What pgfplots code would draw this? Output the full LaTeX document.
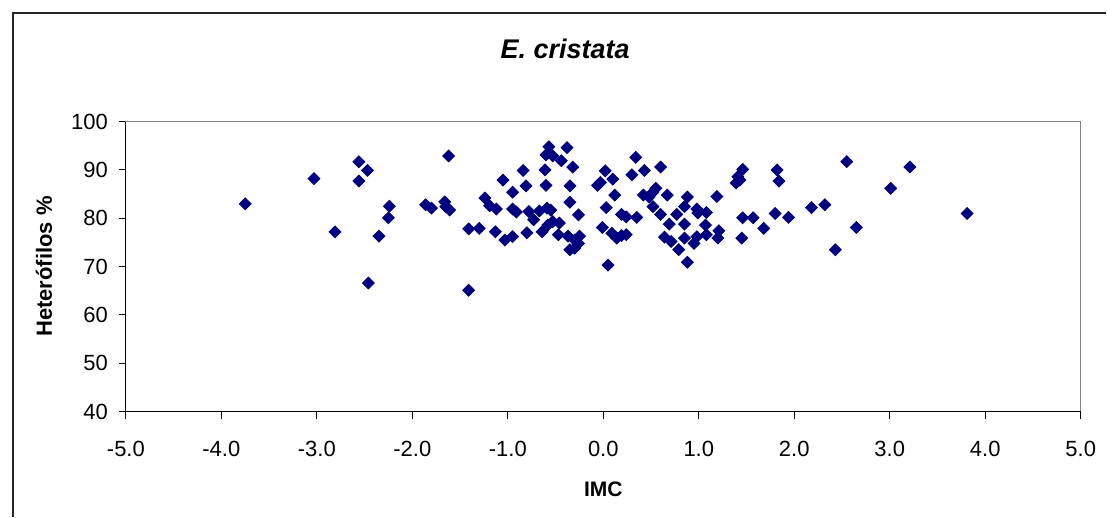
\documentclass[border=0pt]{standalone}
\usepackage{fontspec}
\setmainfont{Liberation Sans}
\usepackage{pgfplots}
\pgfplotsset{compat=1.18}

\definecolor{navy}{HTML}{000080}

\begin{document}
\begin{tikzpicture}
\begin{axis}[
    at={(0,0)}, anchor=south west,
    scale only axis,
    width=477.85pt, height=145.15pt,
    xmin=-5, xmax=5, ymin=40, ymax=100,
    xtick={-5,-4,...,5}, ytick={40,50,...,100},
    xticklabel style={yshift=-7.5pt, /pgf/number format/fixed, /pgf/number format/fixed zerofill, /pgf/number format/precision=1, /pgf/number format/assume math mode=true},
    yticklabel style={xshift=-2pt, /pgf/number format/assume math mode=true},
    tick label style={font=\fontsize{11}{13}\selectfont},
    tick align=outside, major tick length=3.5pt,
    tick style={black, line width=0.5pt},
    axis line style={draw=black!50, line width=0.6pt},
    xtick pos=bottom, ytick pos=left,
    title={\textbf{\textit{E. cristata}}},
    title style={font=\fontsize{13.5}{16}\selectfont, at={(axis description cs:0.46,1)}, anchor=center, yshift=30.3pt},
    xlabel={\textbf{IMC}},
    xlabel style={font=\fontsize{10.5}{12}\selectfont, at={(axis description cs:0.5,0)}, anchor=center, yshift=-39pt},
    ylabel={\textbf{Heterófilos \%}},
    ylabel style={font=\fontsize{11}{13}\selectfont, at={(axis description cs:-0.0858,0.5)}, anchor=center},
    clip=false,
]
\addplot[only marks, mark=square*, mark size=2.1pt, mark options={rotate=45, fill=navy, draw=navy}] coordinates {
(-3.75,83.0) (-3.03,88.2) (-2.81,77.2) (-2.56,91.7) (-2.47,89.9) (-2.56,87.7)
(-2.46,66.6) (-2.35,76.3) (-2.24,82.5) (-2.25,80.1) (-1.62,92.9) (-1.86,82.8)
(-1.80,82.1) (-1.66,83.4) (-1.61,81.7) (-1.65,82.4) (-1.41,77.8) (-1.41,65.1)
(-1.30,77.9) (-1.24,84.2) (-1.19,82.6) (-1.12,81.9) (-1.13,77.2) (-1.05,87.9)
(-1.03,75.5) (-0.95,85.4) (-0.95,76.2) (-0.95,81.9) (-0.91,81.3) (-0.84,89.9)
(-0.81,86.7) (-0.80,77.0) (-0.78,81.4) (-0.73,79.7) (-0.67,81.5) (-0.64,77.2)
(-0.61,90.0) (-0.60,86.8) (-0.59,82.1) (-0.55,81.7) (-0.57,94.8) (-0.60,93.1)
(-0.53,92.9) (-0.44,91.9) (-0.58,78.6) (-0.53,79.3) (-0.46,79.0) (-0.47,76.6)
(-0.38,94.6) (-0.32,90.6) (-0.35,86.7) (-0.35,83.3) (-0.37,76.3) (-0.35,73.5)
(-0.30,73.8) (-0.26,74.8) (-0.25,76.3) (-0.26,80.7) (-0.30,75.5) (-0.06,86.8)
(-0.03,87.4) (0.02,89.8) (-0.01,78.1) (0.03,82.2) (0.05,70.3) (0.10,88.1)
(0.12,84.8) (0.09,76.9) (0.14,75.9) (0.19,76.4) (0.24,76.6) (0.19,80.8)
(0.24,80.3) (0.30,89.0) (0.34,92.6) (0.35,80.2) (0.43,89.9) (0.42,84.8)
(0.48,84.4) (0.52,82.4) (0.55,86.2) (0.52,85.4) (0.60,90.6) (0.60,80.8)
(0.64,76.1) (0.67,84.8) (0.69,78.8) (0.71,75.2) (0.77,80.8) (0.79,73.5)
(0.85,75.9) (0.85,78.8) (0.85,82.4) (0.88,84.4) (0.88,70.9) (0.95,74.8)
(0.98,76.2) (0.98,81.9) (0.99,81.1) (1.08,81.2) (1.07,78.6) (1.08,76.6)
(1.19,84.5) (1.21,77.4) (1.20,75.9) (1.39,87.3) (1.41,88.6) (1.46,90.1)
(1.43,87.9) (1.46,80.1) (1.45,75.9) (1.57,80.1) (1.68,77.9) (1.82,90.0)
(1.84,87.7) (1.80,81.0) (1.94,80.2) (2.18,82.2) (2.32,82.8) (2.43,73.5)
(2.55,91.7) (2.65,78.1) (3.01,86.2) (3.21,90.6) (3.81,81.0)
};
% axes proper in black, plot area border stays grey
\draw[black, line width=0.6pt] (rel axis cs:0,1) -- (rel axis cs:0,0) -- (rel axis cs:1,0);
\end{axis}
% outer chart border (right and bottom fall outside the crop)
\draw[black!85, line width=1pt] (-56.5pt,-52.5pt) -- (-56.5pt,199.5pt) -- (490.5pt,199.5pt);
\useasboundingbox (-63pt,-52.5pt) rectangle (490.5pt,206pt);
\end{tikzpicture}
\end{document}
